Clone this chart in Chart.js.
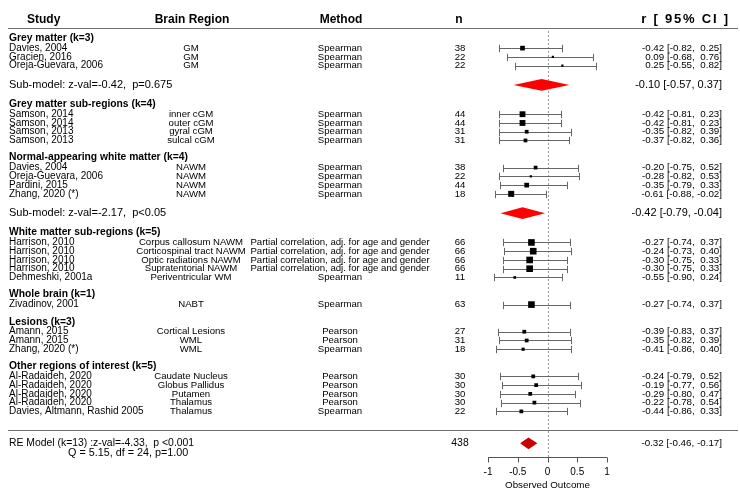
<!DOCTYPE html>
<html>
<head>
<meta charset="utf-8">
<script src="https://cdn.jsdelivr.net/npm/chart.js@4.4.1/dist/chart.umd.min.js"></script>
<style>
  html, body { margin: 0; padding: 0; background: #fff; }
  #wrap { width: 740px; height: 502px; }
</style>
</head>
<body>
<div id="wrap"><canvas id="forest" width="740" height="502"></canvas></div>
<script>
// Subgroups, in display order
const groupNames = [
  'Grey matter (k=3)',
  'Grey matter sub-regions (k=4)',
  'Normal-appearing white matter (k=4)',
  'White matter sub-regions (k=5)',
  'Whole brain (k=1)',
  'Lesions (k=3)',
  'Other regions of interest (k=5)'
];
const groupSizes = [3, 4, 4, 5, 1, 3, 5];

// One entry per study
const studies = [
  'Davies, 2004', 'Gracien, 2016', 'Oreja-Guevara, 2006',
  'Samson, 2014', 'Samson, 2014', 'Samson, 2013', 'Samson, 2013',
  'Davies, 2004', 'Oreja-Guevara, 2006', 'Pardini, 2015', 'Zhang, 2020 (*)',
  'Harrison, 2010', 'Harrison, 2010', 'Harrison, 2010', 'Harrison, 2010', 'Dehmeshki, 2001a',
  'Zivadinov, 2001',
  'Amann, 2015', 'Amann, 2015', 'Zhang, 2020 (*)',
  'Al-Radaideh, 2020', 'Al-Radaideh, 2020', 'Al-Radaideh, 2020', 'Al-Radaideh, 2020', 'Davies, Altmann, Rashid 2005'
];
const regions = [
  'GM', 'GM', 'GM',
  'inner cGM', 'outer cGM', 'gyral cGM', 'sulcal cGM',
  'NAWM', 'NAWM', 'NAWM', 'NAWM',
  'Corpus callosum NAWM', 'Corticospinal tract NAWM', 'Optic radiations NAWM', 'Supratentorial NAWM', 'Periventricular WM',
  'NABT',
  'Cortical Lesions', 'WML', 'WML',
  'Caudate Nucleus', 'Globus Pallidus', 'Putamen', 'Thalamus', 'Thalamus'
];
const PARTIAL = 'Partial correlation, adj. for age and gender';
const methods = [
  'Spearman', 'Spearman', 'Spearman',
  'Spearman', 'Spearman', 'Spearman', 'Spearman',
  'Spearman', 'Spearman', 'Spearman', 'Spearman',
  PARTIAL, PARTIAL, PARTIAL, PARTIAL, 'Spearman',
  'Spearman',
  'Pearson', 'Pearson', 'Spearman',
  'Pearson', 'Pearson', 'Pearson', 'Pearson', 'Spearman'
];
const sampleSizes = [38, 22, 22, 44, 44, 31, 31, 38, 22, 44, 18, 66, 66, 66, 66, 11, 63, 27, 31, 18, 30, 30, 30, 30, 22];
const estimates = [-0.42, 0.09, 0.25, -0.42, -0.42, -0.35, -0.37, -0.20, -0.28, -0.35, -0.61, -0.27, -0.24, -0.30, -0.30, -0.55, -0.27, -0.39, -0.35, -0.41, -0.24, -0.19, -0.29, -0.22, -0.44];
const ciLower = [-0.82, -0.68, -0.55, -0.81, -0.81, -0.82, -0.82, -0.75, -0.82, -0.79, -0.88, -0.74, -0.73, -0.75, -0.75, -0.90, -0.74, -0.83, -0.82, -0.86, -0.79, -0.77, -0.80, -0.78, -0.86];
const ciUpper = [0.25, 0.76, 0.82, 0.23, 0.23, 0.39, 0.36, 0.52, 0.53, 0.33, -0.02, 0.37, 0.40, 0.33, 0.33, 0.24, 0.37, 0.37, 0.39, 0.40, 0.52, 0.56, 0.47, 0.54, 0.33];
// relative weights
const weights = [22, 5, 5, 34, 34, 14, 14, 14, 5, 22, 36, 44, 44, 44, 44, 7, 44, 14, 14, 10, 14, 14, 14, 14, 14];

// Sub-model summaries
const subModelGroups = [0, 2];
const subModelLabels = ['Sub-model: z-val=-0.42,  p=0.675', 'Sub-model: z-val=-2.17,  p<0.05'];
const subModelEst = [-0.10, -0.42];
const subModelLower = [-0.57, -0.79];
const subModelUpper = [0.37, -0.04];

// Overall random-effects model
const overallLabel = 'RE Model (k=13) :z-val=-4.33,  p <0.001';
const overallQ = 'Q = 5.15, df = 24, p=1.00';
const overallN = 438;
const overallEst = -0.32;
const overallLower = -0.46;
const overallUpper = -0.17;

const axisTicks = [-1, -0.5, 0, 0.5, 1];
const axisTickLabels = ['-1', '-0.5', '0', '0.5', '1'];
const axisTitle = 'Observed Outcome';
const columnHeaders = ['Study', 'Brain Region', 'Method', 'n', 'r [ 95% CI ]'];

const FONT = '"Liberation Sans", Arial, sans-serif';
const ROW_PX = 8.92;
const RE_PX = 447;

// row layout (metafor style, rows counted upwards from the RE model)
function layoutRows() {
  const rows = { header: [], study: [], sub: [] };
  let r = 46.3;
  groupSizes.forEach((size, g) => {
    rows.header.push(r);
    r -= 1.15;
    for (let k = 0; k < size; k++) {
      rows.study.push(r);
      r -= 1;
    }
    r += 1;
    const s = subModelGroups.indexOf(g);
    if (s >= 0) {
      rows.sub[s] = r - 2.2;
      r = r - 2.2 - 2.2;
    } else {
      r = r - 1.95;
    }
  });
  return rows;
}
const rows = layoutRows();
const TITLE_ROW = 48.4;
const TOP_LINE_ROW = 47.45;
const BOTTOM_LINE_ROW = 1.5;
const RE_ROW = 0;
const Q_ROW = -1.15;
const AXIS_ROW = -1.6;

function fmt(v) {
  return (v < 0 ? '' : ' ') + v.toFixed(2);
}
function ciText(est, lo, hi) {
  return est.toFixed(2) + ' [' + fmt(lo) + ', ' + fmt(hi) + ']';
}
function summaryText(est, lo, hi) {
  return est.toFixed(2) + ' [' + lo.toFixed(2) + ', ' + hi.toFixed(2) + ']';
}

function text(ctx, str, x, y, align, font) {
  ctx.font = font;
  ctx.textAlign = align;
  ctx.fillText(str, x, y);
}

function diamond(ctx, x, y, est, lo, hi, row, half) {
  const yc = y.getPixelForValue(row);
  const yt = y.getPixelForValue(row + half);
  const yb = y.getPixelForValue(row - half);
  ctx.beginPath();
  ctx.moveTo(x.getPixelForValue(lo), yc);
  ctx.lineTo(x.getPixelForValue(est), yt);
  ctx.lineTo(x.getPixelForValue(hi), yc);
  ctx.lineTo(x.getPixelForValue(est), yb);
  ctx.closePath();
  ctx.fill();
}

const forestPlugin = {
  id: 'forest',
  beforeDatasetsDraw(chart) {
    const ctx = chart.ctx;
    const x = chart.scales.x;
    const y = chart.scales.y;
    ctx.save();

    // reference line at zero
    ctx.strokeStyle = '#9a9a9a';
    ctx.lineWidth = 1;
    ctx.setLineDash([2, 2]);
    ctx.beginPath();
    const x0 = Math.round(x.getPixelForValue(0)) + 0.5;
    ctx.moveTo(x0, y.getPixelForValue(TOP_LINE_ROW) + 3);
    ctx.lineTo(x0, y.getPixelForValue(AXIS_ROW));
    ctx.stroke();
    ctx.setLineDash([]);

    // confidence intervals with end caps
    ctx.strokeStyle = '#666';
    estimates.forEach((est, i) => {
      const py = Math.round(y.getPixelForValue(rows.study[i])) + 0.5;
      const cap = y.getPixelForValue(rows.study[i]) - y.getPixelForValue(rows.study[i] + 0.42);
      const xl = Math.round(x.getPixelForValue(ciLower[i])) + 0.5;
      const xr = Math.round(x.getPixelForValue(ciUpper[i])) + 0.5;
      ctx.beginPath();
      ctx.moveTo(xl, py);
      ctx.lineTo(xr, py);
      ctx.moveTo(xl, py - cap);
      ctx.lineTo(xl, py + cap);
      ctx.moveTo(xr, py - cap);
      ctx.lineTo(xr, py + cap);
      ctx.stroke();
    });

    // sub-model and overall diamonds
    ctx.fillStyle = '#ff0000';
    subModelEst.forEach((est, s) => {
      diamond(ctx, x, y, est, subModelLower[s], subModelUpper[s], rows.sub[s], 0.68);
    });
    ctx.fillStyle = '#c80000';
    diamond(ctx, x, y, overallEst, overallLower, overallUpper, RE_ROW, 0.68);
    ctx.restore();
  },
  afterDraw(chart) {
    const ctx = chart.ctx;
    const x = chart.scales.x;
    const y = chart.scales.y;
    const colStudy = 9, colRegion = 191, colMethod = 340, colN = 460, colCI = 722;
    const body = '9.6px ' + FONT;
    ctx.save();
    ctx.textBaseline = 'middle';
    ctx.fillStyle = '#000';

    // column headers
    const ty = y.getPixelForValue(TITLE_ROW);
    const head = 'bold 12px ' + FONT;
    text(ctx, columnHeaders[0], 27, ty, 'left', head);
    text(ctx, columnHeaders[1], 192, ty, 'center', head);
    text(ctx, columnHeaders[2], 341, ty, 'center', head);
    text(ctx, columnHeaders[3], 459, ty, 'center', head);
    ctx.letterSpacing = '1.8px';
    text(ctx, columnHeaders[4], 730, ty, 'right', 'bold 13px ' + FONT);
    ctx.letterSpacing = '0px';

    // horizontal rules
    ctx.strokeStyle = '#707070';
    ctx.lineWidth = 1;
    [TOP_LINE_ROW, BOTTOM_LINE_ROW].forEach(r => {
      const py = Math.round(y.getPixelForValue(r)) + 0.5;
      ctx.beginPath();
      ctx.moveTo(8, py);
      ctx.lineTo(738, py);
      ctx.stroke();
    });

    // subgroup headers
    groupNames.forEach((name, g) => {
      text(ctx, name, colStudy, y.getPixelForValue(rows.header[g]), 'left', 'bold 10.3px ' + FONT);
    });

    // study rows
    studies.forEach((name, i) => {
      const py = y.getPixelForValue(rows.study[i]);
      text(ctx, name, colStudy, py, 'left', '10px ' + FONT);
      text(ctx, regions[i], colRegion, py, 'center', body);
      text(ctx, methods[i], colMethod, py, 'center', body);
      text(ctx, String(sampleSizes[i]), colN, py, 'center', body);
      text(ctx, ciText(estimates[i], ciLower[i], ciUpper[i]), colCI, py, 'right', '9.8px ' + FONT);
    });

    // sub-model rows
    subModelLabels.forEach((label, s) => {
      const py = y.getPixelForValue(rows.sub[s]);
      text(ctx, label, colStudy, py, 'left', '11px ' + FONT);
      text(ctx, summaryText(subModelEst[s], subModelLower[s], subModelUpper[s]), colCI, py, 'right', '11px ' + FONT);
    });

    // overall model
    const ry = y.getPixelForValue(RE_ROW);
    text(ctx, overallLabel, colStudy, ry, 'left', '10.4px ' + FONT);
    text(ctx, overallQ, 68, y.getPixelForValue(Q_ROW), 'left', '10.8px ' + FONT);
    text(ctx, String(overallN), colN, ry, 'center', '10.4px ' + FONT);
    text(ctx, summaryText(overallEst, overallLower, overallUpper), colCI, ry, 'right', '9.8px ' + FONT);

    // x axis
    const ay = Math.round(y.getPixelForValue(AXIS_ROW)) + 0.5;
    ctx.strokeStyle = '#555';
    ctx.beginPath();
    ctx.moveTo(x.getPixelForValue(axisTicks[0]), ay);
    ctx.lineTo(x.getPixelForValue(axisTicks[axisTicks.length - 1]), ay);
    axisTicks.forEach(t => {
      const px = Math.round(x.getPixelForValue(t)) + 0.5;
      ctx.moveTo(px, ay);
      ctx.lineTo(px, ay + 5);
    });
    ctx.stroke();
    axisTicks.forEach((t, k) => {
      text(ctx, axisTickLabels[k], x.getPixelForValue(t), ay + 15, 'center', '10px ' + FONT);
    });
    text(ctx, axisTitle, x.getPixelForValue(0), ay + 28, 'center', '9.8px ' + FONT);
    ctx.restore();
  }
};

const ctx = document.getElementById('forest').getContext('2d');
new Chart(ctx, {
  type: 'scatter',
  data: {
    datasets: [{
      data: estimates.map((est, i) => ({ x: est, y: rows.study[i] })),
      pointStyle: 'rect',
      pointRadius: weights.map(w => Math.sqrt(w) / Math.SQRT2),
      pointBorderWidth: 0,
      backgroundColor: '#000',
      borderColor: '#000',
      clip: false
    }]
  },
  options: {
    responsive: false,
    devicePixelRatio: 1,
    animation: false,
    layout: { padding: { left: 488, right: 133, top: 0, bottom: 0 } },
    scales: {
      x: { type: 'linear', min: -1, max: 1, display: false },
      y: { type: 'linear', min: -(502 - RE_PX) / ROW_PX, max: RE_PX / ROW_PX, display: false }
    },
    plugins: {
      legend: { display: false },
      tooltip: { enabled: false }
    }
  },
  plugins: [forestPlugin]
});
</script>
</body>
</html>
